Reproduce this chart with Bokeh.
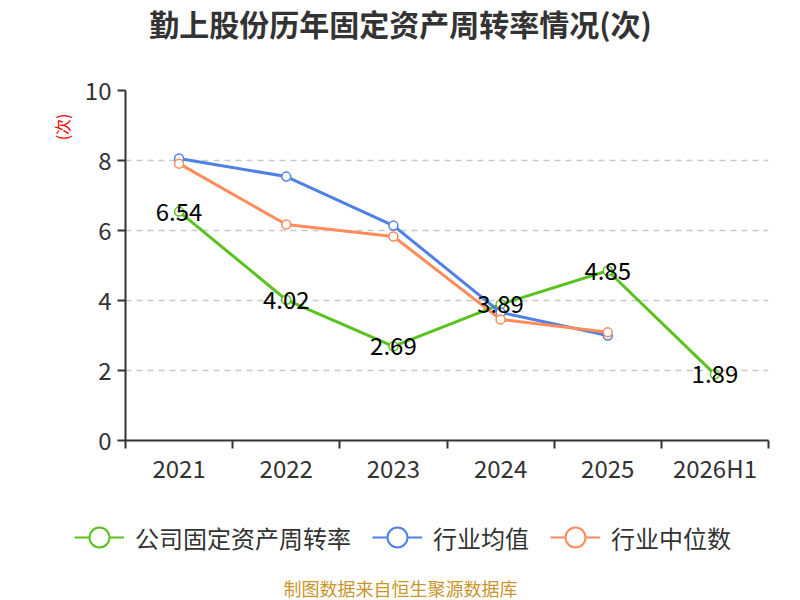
from bokeh.plotting import figure
from bokeh.models import (ColumnDataSource, FixedTicker, Legend, LegendItem, Title, Range1d, Label)
from bokeh.core.properties import value
from bokeh.embed import file_html
from bokeh.resources import INLINE

categories = ["2021", "2022", "2023", "2024", "2025", "2026H1"]
company = [6.54, 4.02, 2.69, 3.89, 4.85, 1.89]
industry_mean = [8.06, 7.54, 6.14, 3.66, 3.00]
industry_median = [7.91, 6.17, 5.83, 3.46, 3.09]
y_ticks = [0, 2, 4, 6, 8, 10]
series_names = ["公司固定资产周转率", "行业均值", "行业中位数"]
title_text = "勤上股份历年固定资产周转率情况(次)"
unit_text = "(次)"
source_text = "制图数据来自恒生聚源数据库"

GREEN = "#5ac21e"
BLUE = "#4f80e6"
ORANGE = "#ff8c5a"
FONT = "Noto Sans CJK SC"


def blank(h):
    f = figure(width=800, height=h, output_backend="svg", toolbar_location=None,
               x_range=Range1d(0, 800), y_range=Range1d(0, h),
               x_axis_location=None, y_axis_location=None)
    f.min_border = 0
    f.min_border_left = 0
    f.min_border_right = 0
    f.min_border_top = 0
    f.min_border_bottom = 0
    f.grid.visible = False
    f.outline_line_color = None
    return f


# header with title
h = blank(45)
h.add_layout(Label(x=400, y=23, text=title_text, text_align="center", text_baseline="middle",
                   text_font=FONT, text_font_size="30px", text_font_style="bold",
                   text_color="#333333"))

xc = [i + 0.5 for i in range(len(categories))]

p = figure(width=800, height=445, output_backend="svg", toolbar_location=None,
           x_range=Range1d(0, len(categories)), y_range=Range1d(0, 10))
p.min_border_left = 125
p.min_border_right = 32
p.min_border_top = 45
p.min_border_bottom = 50
p.outline_line_color = None

# x axis
p.xaxis.ticker = FixedTicker(ticks=xc, minor_ticks=list(range(len(categories) + 1)))
p.xaxis.major_label_overrides = {x: c for x, c in zip(xc, categories)}
p.xaxis.major_tick_line_color = None
p.xaxis.minor_tick_line_color = "#333333"
p.xaxis.minor_tick_line_width = 2
p.xaxis.minor_tick_out = 8
p.xaxis.minor_tick_in = 0
p.xaxis.axis_line_color = "#333333"
p.xaxis.axis_line_width = 2
p.xaxis.major_label_text_font = FONT
p.xaxis.major_label_text_font_size = "24px"
p.xaxis.major_label_text_color = "#333333"
p.xaxis.major_label_standoff = 1

# y axis
p.yaxis.ticker = FixedTicker(ticks=y_ticks)
p.yaxis.minor_tick_line_color = None
p.yaxis.major_tick_line_color = "#333333"
p.yaxis.major_tick_line_width = 2
p.yaxis.major_tick_out = 8
p.yaxis.major_tick_in = 0
p.yaxis.axis_line_color = "#333333"
p.yaxis.axis_line_width = 2
p.yaxis.major_label_text_font = FONT
p.yaxis.major_label_text_font_size = "24px"
p.yaxis.major_label_text_color = "#333333"
p.yaxis.major_label_standoff = 6

p.xgrid.grid_line_color = None
p.ygrid.ticker = FixedTicker(ticks=y_ticks[1:])
p.ygrid.grid_line_color = "#c8c8c8"
p.ygrid.grid_line_dash = "6 5"
p.ygrid.grid_line_width = 1.5

src_c = ColumnDataSource(dict(x=xc, y=company, t=[f"{v:.2f}" for v in company]))
src_m = ColumnDataSource(dict(x=xc[:len(industry_mean)], y=industry_mean))
src_d = ColumnDataSource(dict(x=xc[:len(industry_median)], y=industry_median))

p.line("x", "y", source=src_c, line_color=GREEN, line_width=3)
p.scatter("x", "y", source=src_c, size=9, line_color=GREEN, fill_color="white", line_width=1.5)
p.line("x", "y", source=src_m, line_color=BLUE, line_width=3)
p.scatter("x", "y", source=src_m, size=9, line_color=BLUE, fill_color="white", line_width=1.5)
p.line("x", "y", source=src_d, line_color=ORANGE, line_width=3)
p.scatter("x", "y", source=src_d, size=9, line_color=ORANGE, fill_color="white", line_width=1.5)

p.text("x", "y", text="t", source=src_c, text_align="center", text_baseline="middle",
       text_font=value(FONT), text_font_size="24px", text_color="black")

ylab = Title(text=unit_text, align="right", offset=23, text_font=FONT, text_font_size="16px",
             text_color="red", text_font_style="normal", standoff=16)
p.add_layout(ylab, "left")

# bottom strip: legend + source note
q = blank(110)
items = []
for name, col in zip(series_names, [GREEN, BLUE, ORANGE]):
    key = ColumnDataSource(dict(x=[float("nan")], y=[float("nan")]))
    lr = q.line("x", "y", source=key, line_color=col, line_width=2)
    sr = q.scatter("x", "y", source=key, line_color=col, fill_color="white", line_width=2)
    items.append(LegendItem(label=name, renderers=[lr, sr]))

legend = Legend(items=items, orientation="horizontal", location=(74, 32))
legend.label_text_font = FONT
legend.label_text_font_size = "24px"
legend.label_text_color = "#333333"
legend.glyph_width = 50
legend.glyph_height = 62
legend.label_standoff = 11
legend.spacing = 21
legend.padding = 0
legend.margin = 0
legend.border_line_color = None
legend.background_fill_alpha = 0
q.add_layout(legend, "center")

q.add_layout(Label(x=400, y=13, text=source_text, text_align="center",
                   text_baseline="middle", text_font=FONT, text_font_size="18px",
                   text_color="#c9962c"))

open("out.html", "w").write(file_html([h, p, q], INLINE))
